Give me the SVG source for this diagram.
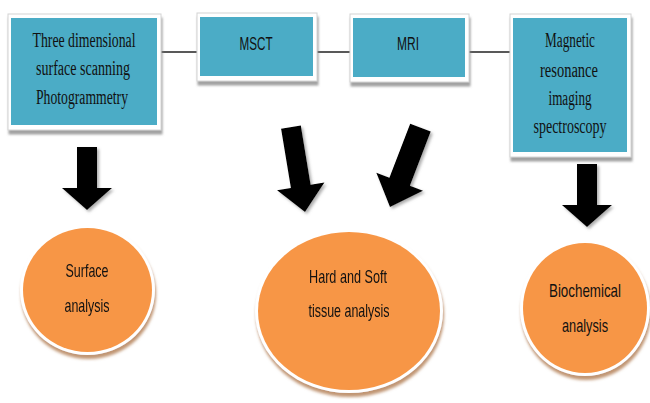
<svg xmlns="http://www.w3.org/2000/svg" width="650" height="403" viewBox="0 0 650 403">
<defs>
<filter id="sh" x="-20%" y="-20%" width="140%" height="150%">
<feDropShadow dx="1" dy="4" stdDeviation="1.2" flood-color="#8a8a8a" flood-opacity="0.8"/>
</filter>
<filter id="csh" x="-20%" y="-20%" width="140%" height="150%">
<feDropShadow dx="1" dy="4" stdDeviation="1.5" flood-color="#b07a50" flood-opacity="0.8"/>
</filter>
<filter id="ash" x="-30%" y="-30%" width="160%" height="160%">
<feDropShadow dx="2" dy="2" stdDeviation="1.5" flood-color="#777" flood-opacity="0.6"/>
</filter>
<polygon id="adown" points="-10,-63 10,-63 10,-22 25,-22 0,0 -25,-22 -10,-22"/>
</defs>
<style>
.frame{fill:#ffffff;stroke:#d4d4d4;stroke-width:1}
.box{fill:#4BACC6}
.cframe{fill:#ffffff}
.circ{fill:#F79646}
.serif{font-family:"Liberation Serif","Times New Roman",serif;font-size:20px;fill:#111;text-anchor:middle}
.sans{font-family:"Liberation Sans",Arial,sans-serif;font-size:19px;fill:#111;text-anchor:middle}
.conn{stroke:#222;stroke-width:1.5;fill:none}
.arrow{fill:#000}
</style>
<rect width="650" height="403" fill="#ffffff"/>
<g id="connectors">
<line class="conn" x1="161" y1="52" x2="197" y2="52"/>
<line class="conn" x1="317" y1="52" x2="350" y2="52"/>
<line class="conn" x1="469" y1="52" x2="510" y2="52"/>
<g filter="url(#ash)">
<use href="#adown" class="arrow" transform="translate(87,210)"/>
<use href="#adown" class="arrow" transform="translate(587,227)"/>
<polygon class="arrow" points="-10,-86 10,-86 10,-26 24,-26 0,0 -24,-26 -10,-26" transform="translate(305,212) rotate(-9.4)"/>
<polygon class="arrow" points="-11,-85 11,-85 11,-27 25,-27 0,0 -25,-27 -11,-27" transform="translate(390,207) rotate(21)"/>
</g>
</g>
<g id="box-3d">
<rect class="frame" x="8" y="14" width="153" height="116" filter="url(#sh)"/>
<rect class="box" x="11" y="18" width="146" height="107"/>
<text class="serif" x="84" y="47" textLength="103" lengthAdjust="spacingAndGlyphs">Three dimensional</text>
<text class="serif" x="83" y="75" textLength="94" lengthAdjust="spacingAndGlyphs">surface scanning</text>
<text class="serif" x="82" y="104" textLength="92" lengthAdjust="spacingAndGlyphs">Photogrammetry</text>
</g>
<g id="box-msct">
<rect class="frame" x="197" y="13" width="120" height="68" filter="url(#sh)"/>
<rect class="box" x="200" y="17" width="113" height="59"/>
<text class="sans" x="256" y="50" textLength="33" lengthAdjust="spacingAndGlyphs">MSCT</text>
</g>
<g id="box-mri">
<rect class="frame" x="350" y="14" width="119" height="68" filter="url(#sh)"/>
<rect class="box" x="353" y="18" width="112" height="59"/>
<text class="sans" x="408" y="50" textLength="22" lengthAdjust="spacingAndGlyphs">MRI</text>
</g>
<g id="box-mrs">
<rect class="frame" x="510" y="14" width="121" height="143" filter="url(#sh)"/>
<rect class="box" x="513" y="18" width="114" height="134"/>
<text class="serif" x="570" y="47" textLength="50" lengthAdjust="spacingAndGlyphs">Magnetic</text>
<text class="serif" x="569" y="77" textLength="58" lengthAdjust="spacingAndGlyphs">resonance</text>
<text class="serif" x="570" y="105" textLength="43" lengthAdjust="spacingAndGlyphs">imaging</text>
<text class="serif" x="570" y="133" textLength="73" lengthAdjust="spacingAndGlyphs">spectroscopy</text>
</g>
<g id="circle-surface">
<ellipse class="cframe" cx="87.5" cy="290" rx="67.5" ry="65" filter="url(#csh)"/>
<ellipse class="circ" cx="87.5" cy="290" rx="64.5" ry="62"/>
<text class="sans" x="87" y="277" textLength="43" lengthAdjust="spacingAndGlyphs">Surface</text>
<text class="sans" x="87" y="312" textLength="45" lengthAdjust="spacingAndGlyphs">analysis</text>
</g>
<g id="circle-tissue">
<ellipse class="cframe" cx="349" cy="311" rx="94" ry="82" filter="url(#csh)"/>
<ellipse class="circ" cx="349" cy="311" rx="91" ry="79"/>
<text class="sans" x="348" y="283" textLength="78" lengthAdjust="spacingAndGlyphs">Hard and Soft</text>
<text class="sans" x="349" y="317" textLength="81" lengthAdjust="spacingAndGlyphs">tissue analysis</text>
</g>
<g id="circle-biochem">
<ellipse class="cframe" cx="585" cy="308" rx="65" ry="68" filter="url(#csh)"/>
<ellipse class="circ" cx="585" cy="308" rx="62" ry="65"/>
<text class="sans" x="585" y="297" textLength="72" lengthAdjust="spacingAndGlyphs">Biochemical</text>
<text class="sans" x="585" y="332" textLength="46" lengthAdjust="spacingAndGlyphs">analysis</text>
</g>
</svg>
